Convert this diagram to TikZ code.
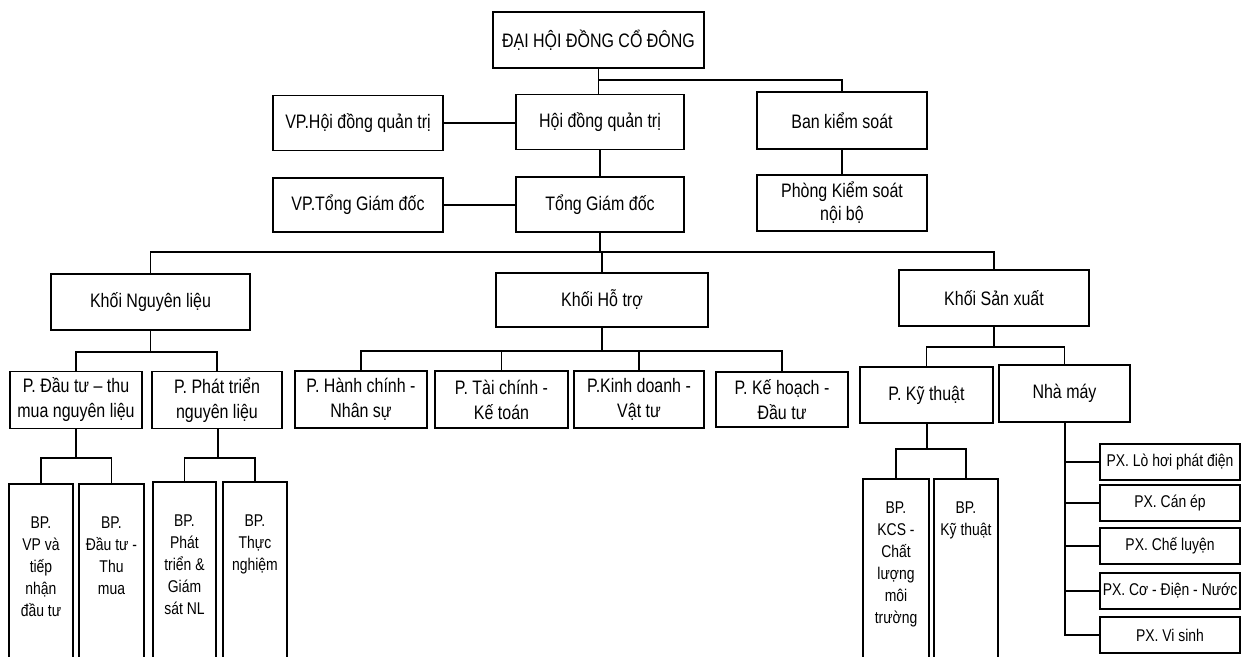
\documentclass[tikz,border=0pt]{standalone}
\usepackage{fontspec}
\setmainfont{Liberation Sans}[FakeStretch=0.82]
\begin{document}
\begin{tikzpicture}[x=1pt,y=-1pt,
  box/.style={draw, line width=1.6pt, inner sep=0pt, align=center, font=\fontsize{19.5}{25}\selectfont},
  link/.style={line width=1.6pt},
  pxbox/.style={box, minimum width=140pt, minimum height=36pt, font=\fontsize{17}{20}\selectfont},
  bpbox/.style={draw, line width=1.6pt, anchor=north, minimum height=220pt, inner sep=0pt},
  bptext/.style={anchor=north, align=center, inner sep=0pt, font=\fontsize{17}{22}\selectfont}]
\useasboundingbox (0,0) rectangle (1246,656);
\clip (0,0) rectangle (1246,656);

% top levels
\node[box, minimum width=211pt, minimum height=56pt] (dhcd) at (598.5,40) {ĐẠI HỘI ĐỒNG CỔ ĐÔNG};
\node[box, minimum width=168pt, minimum height=55pt] (hdqt) at (600,122) {Hội đồng quản trị};
\node[box, minimum width=170pt, minimum height=55pt] (vphd) at (358,123) {VP.Hội đồng quản trị};
\node[box, minimum width=170pt, minimum height=57pt] (bks) at (842,120.5) {Ban kiểm soát};
\node[box, minimum width=168pt, minimum height=55pt] (tgd) at (600,204.5) {Tổng Giám đốc};
\node[box, minimum width=170pt, minimum height=54pt] (vptgd) at (358,205) {VP.Tổng Giám đốc};
\node[box, minimum width=170pt, minimum height=56pt, font=\fontsize{19.5}{23}\selectfont] (pks) at (842,203) {Phòng Kiểm soát\\nội bộ};

% khoi
\node[box, minimum width=199pt, minimum height=56pt] (knl) at (150.5,302) {Khối Nguyên liệu};
\node[box, minimum width=212pt, minimum height=54pt] (kht) at (602,300) {Khối Hỗ trợ};
\node[box, minimum width=190pt, minimum height=56pt] (ksx) at (994,298) {Khối Sản xuất};

% phong
\node[box, minimum width=132pt, minimum height=57pt] (pdt) at (76,400) {P. Đầu tư – thu\\mua nguyên liệu};
\node[box, minimum width=130pt, minimum height=57pt] (ppt) at (217,400) {P. Phát triển\\nguyên liệu};
\node[box, minimum width=132pt, minimum height=57pt] (phc) at (361,399.5) {P. Hành chính -\\Nhân sự};
\node[box, minimum width=133pt, minimum height=57pt] (ptc) at (501.5,399.5) {P. Tài chính -\\Kế toán};
\node[box, minimum width=130pt, minimum height=57pt] (pkd) at (639,399.5) {P.Kinh doanh -\\Vật tư};
\node[box, minimum width=132pt, minimum height=55pt] (pkh) at (782,399.5) {P. Kế hoạch -\\Đầu tư};
\node[box, minimum width=133pt, minimum height=56pt] (pkt) at (926.5,395) {P. Kỹ thuật};
\node[box, minimum width=131pt, minimum height=57pt] (nm) at (1064.5,393.5) {Nhà máy};

% bo phan
\node[bpbox, minimum width=64pt] (bp1) at (41,483) {};
\node[bpbox, minimum width=65pt] (bp2) at (111.5,483) {};
\node[bpbox, minimum width=63pt] (bp3) at (184.5,481) {};
\node[bpbox, minimum width=64pt] (bp4) at (255,481) {};
\node[bpbox, minimum width=66pt] (bp5) at (896,478) {};
\node[bpbox, minimum width=64pt] (bp6) at (966,478) {};
\node[bptext] (bp1t) at ([yshift=-34pt]bp1.north) {BP.\\VP và\\tiếp\\nhận\\đầu tư};
\node[bptext] (bp2t) at ([yshift=-34pt]bp2.north) {BP.\\Đầu tư -\\Thu\\mua};
\node[bptext] (bp3t) at ([yshift=-34pt]bp3.north) {BP.\\Phát\\triển \&\\Giám\\sát NL};
\node[bptext] (bp4t) at ([yshift=-34pt]bp4.north) {BP.\\Thực\\nghiệm};
\node[bptext] (bp5t) at ([yshift=-24pt]bp5.north) {BP.\\KCS -\\Chất\\lượng\\môi\\trường};
\node[bptext] (bp6t) at ([yshift=-24pt]bp6.north) {BP.\\Kỹ thuật};

% phan xuong
\node[pxbox] (px1) at (1170,462) {PX. Lò hơi phát điện};
\node[pxbox] (px2) at (1170,503) {PX. Cán ép};
\node[pxbox] (px3) at (1170,546) {PX. Chế luyện};
\node[pxbox] (px4) at (1170,591) {PX. Cơ - Điện - Nước};
\node[pxbox] (px5) at (1170,635) {PX. Vi sinh};

% connectors top
\coordinate (j0) at (598.5,80);
\draw[link] (dhcd.south) -- (dhcd.south |- hdqt.north);
\draw[link] (j0) -| (bks.north);
\draw[link] (vphd.east) -- (vphd.east -| hdqt.west);
\draw[link] (hdqt.south) -- (tgd.north);
\draw[link] (vptgd.east) -- (vptgd.east -| tgd.west);
\draw[link] (bks.south) -- (pks.north);

% main bus
\coordinate (j1) at (600,252);
\draw[link] (tgd.south) -- (j1);
\draw[link] (knl.north) |- (j1) -| (ksx.north);
\draw[link] (kht.north) -- (kht.north |- j1);

% khoi buses
\coordinate (j2) at (150.5,352);
\draw[link] (knl.south) -- (j2);
\draw[link] (pdt.north) |- (j2) -| (ppt.north);
\coordinate (j3) at (602,351);
\draw[link] (kht.south) -- (j3);
\draw[link] (phc.north) |- (j3) -| (pkh.north);
\draw[link] (ptc.north) -- (ptc.north |- j3);
\draw[link] (pkd.north) -- (pkd.north |- j3);
\coordinate (j4) at (994,347);
\draw[link] (ksx.south) -- (j4);
\draw[link] (pkt.north) |- (j4) -| (nm.north);

% bo phan buses
\coordinate (j5) at (76,458);
\draw[link] (pdt.south) -- (j5);
\draw[link] (bp1.north) |- (j5) -| (bp2.north);
\coordinate (j6) at (218,458);
\draw[link] (ppt.south -| j6) -- (j6);
\draw[link] (bp3.north) |- (j6) -| (bp4.north);
\coordinate (j7) at (927,449);
\draw[link] (pkt.south -| j7) -- (j7);
\draw[link] (bp5.north) |- (j7) -| (bp6.north);

% nha may spine
\coordinate (j8) at (1065,635);
\draw[link] (nm.south -| j8) -- (j8) -- (px5.west);
\draw[link] (j8 |- px1.west) -- (px1.west);
\draw[link] (j8 |- px2.west) -- (px2.west);
\draw[link] (j8 |- px3.west) -- (px3.west);
\draw[link] (j8 |- px4.west) -- (px4.west);
\end{tikzpicture}
\end{document}
